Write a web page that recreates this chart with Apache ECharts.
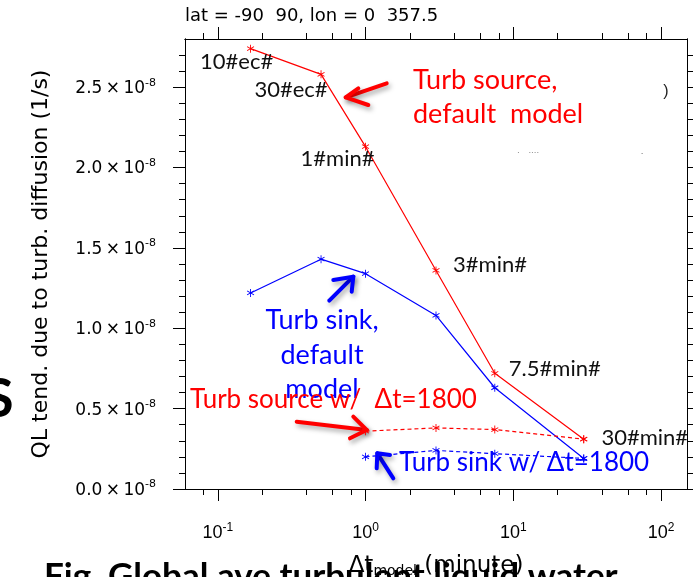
<!DOCTYPE html>
<html>
<head>
<meta charset="utf-8">
<script src="https://cdn.jsdelivr.net/npm/echarts@6/dist/echarts.min.js"></script>
<style>
  html, body { margin: 0; padding: 0; background: #fff; }
  #chart { width: 693px; height: 577px; }
</style>
</head>
<body>
<div id="chart"></div>
<script>
// Model time step (minutes) and the run names printed next to each point
const stepMinutes = [0.1667, 0.5, 1, 3, 7.5, 30];
const stepNames = ['10#ec#', '30#ec#', '1#min#', '3#min#', '7.5#min#', '30#min#'];

// Global mean QL tendency due to turbulent diffusion, in units of 1e-8 1/s
const sourceDefault = [2.74, 2.58, 2.13, 1.36, 0.72, 0.31];
const sinkDefault = [1.22, 1.43, 1.34, 1.08, 0.63, 0.19];

// Runs with the turbulence scheme on a fixed 1800 s step
const stepMinutes1800 = [1, 3, 7.5, 30];
const source1800 = [0.36, 0.38, 0.37, 0.31];
const sink1800 = [0.20, 0.24, 0.22, 0.19];

// Tick positions
const xMajorTicks = [0.1, 1, 10, 100];
const xMinorTicks = [0.08, 0.2, 0.4, 0.6, 0.8, 2, 4, 6, 8, 20, 40, 60, 80];
const yMajorTicks = [0, 0.5, 1.0, 1.5, 2.0, 2.5];
const yMinorTicks = [0.1, 0.2, 0.3, 0.4, 0.6, 0.7, 0.8, 0.9, 1.1, 1.2, 1.3, 1.4,
  1.6, 1.7, 1.8, 1.9, 2.1, 2.2, 2.3, 2.4, 2.6, 2.7];

const X_MIN = 0.06, X_MAX = 150, Y_MIN = 0, Y_MAX = 2.8;

// Where each run name sits relative to its point (px)
const nameOffsets = [[-14, 13], [-30, 16], [-28, 12], [54, -6], [60, -4], [61, -1]];

const RED = '#ff0000', BLUE = '#0000ff', INK = '#000';
const SANS = '"Liberation Sans", Arial, Helvetica, sans-serif';
const WIDE = '"DejaVu Sans", Verdana, sans-serif';
const NOTE = 'Lato, "Open Sans", sans-serif';

// Six-armed asterisk marker built from three thin bars
function asteriskPath() {
  const r = 5, w = 0.55;
  let d = '';
  [0, 60, -60].forEach(function (deg) {
    const a = deg * Math.PI / 180;
    const dx = Math.sin(a) * r, dy = -Math.cos(a) * r;
    const nx = Math.cos(a) * w, ny = Math.sin(a) * w;
    const p = [[dx + nx, dy + ny], [dx - nx, dy - ny], [-dx - nx, -dy - ny], [-dx + nx, -dy + ny]];
    d += 'M' + p.map(function (q) { return q[0].toFixed(3) + ',' + q[1].toFixed(3); }).join('L') + 'Z';
  });
  return 'path://' + d;
}
const STAR = asteriskPath();

function xAxisDef(position, ticks, len, withLabels, extra) {
  return Object.assign({
    type: 'log', logBase: 10, min: X_MIN, max: X_MAX, position: position, gridIndex: 0,
    axisLine: { show: true, onZero: false, lineStyle: { color: INK, width: 1 } },
    axisTick: { show: true, inside: false, length: len, customValues: ticks, lineStyle: { color: INK, width: 1 } },
    axisLabel: withLabels ? {
      show: true, customValues: ticks, margin: 33,
      formatter: function (v) { return '{b|10}{s|' + Math.round(Math.log10(v)) + '}'; },
      rich: {
        b: { fontFamily: SANS, fontSize: 18, color: INK, lineHeight: 20, verticalAlign: 'bottom' },
        s: { fontFamily: SANS, fontSize: 12, color: INK, lineHeight: 12, verticalAlign: 'top' }
      }
    } : { show: false },
    splitLine: { show: false }, minorTick: { show: false }
  }, extra || {});
}

function yAxisDef(position, ticks, len, withLabels, extra) {
  return Object.assign({
    type: 'value', min: Y_MIN, max: Y_MAX, position: position, gridIndex: 0,
    axisLine: { show: true, onZero: false, lineStyle: { color: INK, width: 1 } },
    axisTick: { show: true, inside: false, length: len, customValues: ticks, lineStyle: { color: INK, width: 1 } },
    axisLabel: withLabels ? {
      show: true, customValues: ticks, margin: 29,
      formatter: function (v) { return '{b|' + v.toFixed(1) + '\u2009\u00d7\u200910}{s|-8}'; },
      rich: {
        b: { fontFamily: WIDE, fontSize: 17, color: INK, lineHeight: 20, verticalAlign: 'bottom' },
        s: { fontFamily: WIDE, fontSize: 11, color: INK, lineHeight: 11, verticalAlign: 'top' }
      }
    } : { show: false },
    splitLine: { show: false }, minorTick: { show: false }
  }, extra || {});
}

function lineSeries(name, xs, ys, color, dashed, withNames) {
  return {
    name: name, type: 'line', xAxisIndex: 0, yAxisIndex: 0,
    symbol: STAR, symbolSize: 8, symbolKeepAspect: true,
    lineStyle: { color: color, width: 1.2, type: dashed ? [4, 3] : 'solid' },
    itemStyle: { color: color },
    z: 3, animation: false,
    data: xs.map(function (x, i) {
      const item = { value: [x, ys[i]] };
      if (withNames) {
        item.label = {
          show: true, position: 'inside', formatter: stepNames[i], offset: nameOffsets[i],
          fontFamily: NOTE, fontSize: 22, color: '#111'
        };
      }
      return item;
    })
  };
}

// Thick slide-style arrow with a soft drop shadow
function arrow(color, tail, tip, armA, armB) {
  const shadow = { shadowBlur: 5, shadowColor: 'rgba(0,0,0,0.35)', shadowOffsetX: 2, shadowOffsetY: 3 };
  const style = Object.assign({ stroke: color, lineWidth: 4, lineCap: 'round', lineJoin: 'round', fill: null }, shadow);
  return {
    type: 'group', z: 20,
    children: [
      { type: 'line', shape: { x1: tail[0], y1: tail[1], x2: tip[0], y2: tip[1] }, style: style },
      { type: 'polyline', shape: { points: [armA, tip, armB] }, style: style }
    ]
  };
}

function note(text, x, y, color, size, extra) {
  return {
    type: 'text', z: 15, x: x, y: y,
    style: Object.assign({ text: text, fill: color, font: size + 'px ' + NOTE, align: 'left', verticalAlign: 'middle' }, extra || {})
  };
}

const chart = echarts.init(document.getElementById('chart'), null, { renderer: 'canvas' });

chart.setOption({
  backgroundColor: '#fff',
  animation: false,
  grid: { left: 185, top: 39, right: 6, bottom: 88, containLabel: false, outerBoundsMode: 'none' },
  xAxis: [
    xAxisDef('bottom', xMajorTicks, 12, true, {
      name: '{a|\u0394t}{sub|model}{a| (minute)}', nameLocation: 'middle', nameGap: 63,
      nameTextStyle: {
        rich: {
          a: { fontFamily: WIDE, fontSize: 23, color: INK, lineHeight: 26, verticalAlign: 'bottom' },
          sub: { fontFamily: WIDE, fontSize: 14, color: INK, lineHeight: 14, verticalAlign: 'bottom' }
        }
      }
    }),
    xAxisDef('bottom', xMinorTicks, 6, false),
    xAxisDef('top', xMajorTicks, 12, false),
    xAxisDef('top', xMinorTicks, 6, false)
  ],
  yAxis: [
    yAxisDef('left', yMajorTicks, 12, true, {
      name: 'QL tend. due to turb. diffusion (1/s)', nameLocation: 'middle', nameGap: 133,
      nameRotate: 90,
      nameTextStyle: { fontFamily: WIDE, fontSize: 22, color: INK }
    }),
    yAxisDef('left', yMinorTicks, 6, false),
    yAxisDef('right', yMajorTicks, 12, false),
    yAxisDef('right', yMinorTicks, 6, false)
  ],
  series: [
    lineSeries('Turb source, default model', stepMinutes, sourceDefault, RED, false, true),
    lineSeries('Turb sink, default model', stepMinutes, sinkDefault, BLUE, false, false),
    lineSeries('Turb source w/ \u0394t=1800', stepMinutes1800, source1800, RED, true, false),
    lineSeries('Turb sink w/ \u0394t=1800', stepMinutes1800, sink1800, BLUE, true, false)
  ],
  graphic: [
    { type: 'text', x: 185, y: 16, z: 10,
      style: { text: 'lat = -90  90, lon = 0  357.5', fill: INK, font: '18px ' + WIDE, align: 'left', verticalAlign: 'middle' } },

    note('Turb source,', 413, 80, RED, 27),
    note('default  model', 413, 114, RED, 27),
    note('Turb sink,', 322, 320, BLUE, 27, { align: 'center' }),
    note('default', 322, 355, BLUE, 27, { align: 'center' }),
    note('model', 322, 389, BLUE, 27, { align: 'center' }),
    note('Turb source w/  \u0394t=1800', 190, 400, RED, 26),
    note('Turb sink w/ \u0394t=1800', 399, 463, BLUE, 26),

    arrow(RED, [386.7, 83.3], [345.7, 97.3], [358.3, 88.3], [368.3, 105]),
    arrow(BLUE, [329.3, 300.7], [353.3, 276.7], [333.3, 280], [351.7, 291.7]),
    arrow(RED, [296.7, 421.7], [366.7, 430], [353.3, 416.7], [350, 438.3]),
    arrow(BLUE, [393.3, 478.3], [377.3, 453.3], [376.7, 468.3], [390, 455]),

    { type: 'text', x: 666, y: 92, z: 10,
      style: { text: ')', fill: '#222', font: '16px ' + SANS, align: 'center', verticalAlign: 'middle' } },
    { type: 'text', x: 528, y: 153, z: 10,
      style: { text: '\u00b7    \u00b7\u00b7\u00b7\u00b7', fill: '#777', font: '8px ' + SANS, align: 'center', verticalAlign: 'middle' } },
    { type: 'text', x: 642, y: 154, z: 10,
      style: { text: '\u00b7', fill: '#555', font: '8px ' + SANS, align: 'center', verticalAlign: 'middle' } },

    { type: 'text', x: -16, y: 400, z: 10,
      style: { text: 'S', fill: INK, font: 'bold 54px ' + NOTE, align: 'left', verticalAlign: 'middle' } },
    { type: 'text', x: 44, y: 577, z: 1,
      style: { text: 'Fig. Global ave turbulent liquid water', fill: INK, font: 'bold 35px ' + NOTE, align: 'left', verticalAlign: 'middle' } }
  ]
});
</script>
</body>
</html>
